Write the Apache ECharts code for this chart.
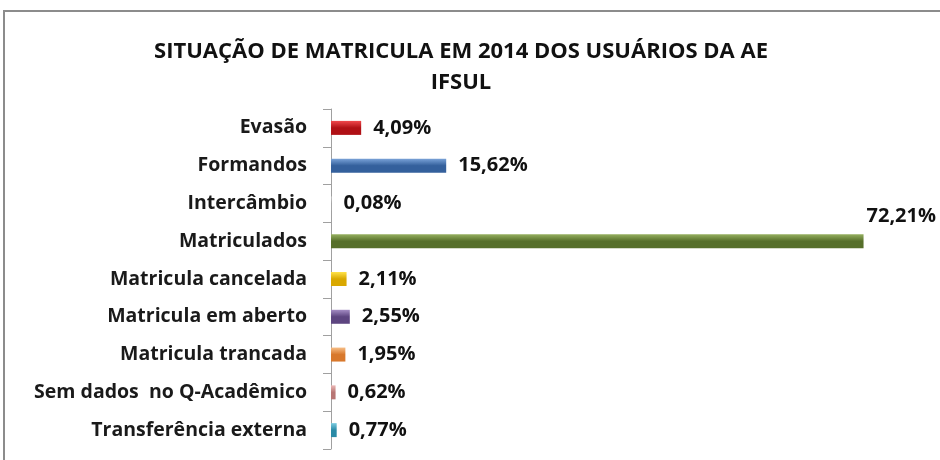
<!DOCTYPE html>
<html>
<head>
<meta charset="utf-8">
<script src="https://cdn.jsdelivr.net/npm/echarts@6/dist/echarts.min.js"></script>
<style>
  html, body { margin: 0; padding: 0; background: #fff; }
  #chart { width: 940px; height: 460px; }
</style>
</head>
<body>
<div id="chart"></div>
<script>
var categorias = ['Evasão', 'Formandos', 'Intercâmbio', 'Matriculados', 'Matricula cancelada',
  'Matricula em aberto', 'Matricula trancada', 'Sem dados  no Q-Acadêmico', 'Transferência externa'];
var percentuais = [4.09, 15.62, 0.08, 72.21, 2.11, 2.55, 1.95, 0.62, 0.77];
var rotulos = ['4,09%', '15,62%', '0,08%', '72,21%', '2,11%', '2,55%', '1,95%', '0,62%', '0,77%'];
// cor clara em cima, escura embaixo (efeito 3D do Excel)
var coresClaras = ['#f0484c', '#7aa3d8', '#dddddd', '#96b060', '#ffe34a', '#a48cc4', '#f7be86', '#ecb8b6', '#7ccbe0'];
var coresEscuras = ['#b01015', '#34609c', '#aaaaaa', '#566f2a', '#d9a800', '#5d4580', '#d8782c', '#b87674', '#2a8aa6'];

var fonte = '"Open Sans", "Noto Sans", sans-serif';

function montaDados() {
  var arr = [];
  for (var i = 0; i < percentuais.length; i++) {
    var item = {
      value: percentuais[i],
      itemStyle: {
        color: new echarts.graphic.LinearGradient(0, 0, 0, 1, [
          { offset: 0, color: coresClaras[i] },
          { offset: 0.5, color: coresEscuras[i] },
          { offset: 1, color: coresEscuras[i] }
        ])
      }
    };
    // o rotulo da barra maior fica acima do fim da barra
    if (percentuais[i] > 50) {
      item.label = { offset: [-9, -25] };
    }
    arr.push(item);
  }
  return arr;
}

var mychart = echarts.init(document.getElementById('chart'));
var option = {
  backgroundColor: '#ffffff',
  animation: false,
  title: {
    text: 'SITUAÇÃO DE MATRICULA EM 2014 DOS USUÁRIOS DA AE\nIFSUL',
    left: 456,
    textAlign: 'center',
    top: 31,
    textStyle: {
      fontFamily: fonte,
      fontSize: 22,
      fontWeight: 'bold',
      color: '#111',
      lineHeight: 31
    }
  },
  graphic: [{
    type: 'rect',
    shape: { x: 4, y: 11, width: 960, height: 500 },
    style: { fill: 'none', stroke: '#8c8c8c', lineWidth: 2 },
    silent: true
  }],
  grid: {
    left: 331,
    top: 109,
    bottom: 11,
    right: 19
  },
  xAxis: {
    type: 'value',
    min: 0,
    max: 80,
    show: false
  },
  yAxis: {
    type: 'category',
    inverse: true,
    data: categorias,
    axisLine: { show: true, lineStyle: { color: '#a0a0a0', width: 1 } },
    axisTick: { show: true, length: 8, lineStyle: { color: '#a0a0a0' } },
    axisLabel: {
      margin: 24,
      fontFamily: fonte,
      fontSize: 19.5,
      fontWeight: 'bold',
      color: '#1a1a1a'
    }
  },
  series: [{
    name: 'Situação',
    type: 'bar',
    barWidth: 14,
    data: montaDados(),
    label: {
      show: true,
      position: 'right',
      distance: 12,
      fontFamily: fonte,
      fontSize: 20,
      fontWeight: 'bold',
      color: '#111',
      formatter: function (p) { return rotulos[p.dataIndex]; }
    }
  }]
};
mychart.setOption(option);
</script>
</body>
</html>
